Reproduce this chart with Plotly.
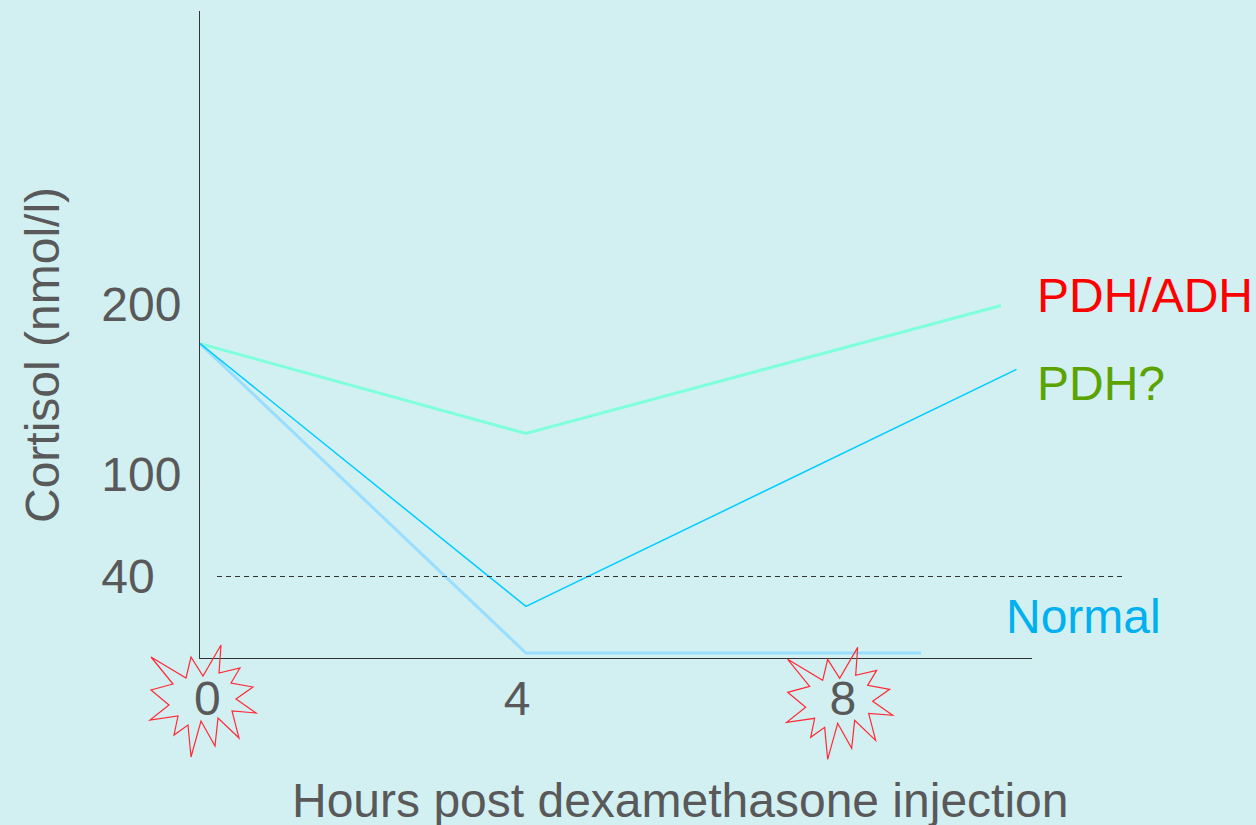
import plotly.graph_objects as go

pdh_adh_hours = [0, 4, 9.83]
pdh_adh = [177, 124.1, 199.4]
pdh_q_hours = [0, 4, 10.02]
pdh_q = [177, 22.4, 161.8]
normal_hours = [0, 4, 8.85]
normal = [177, -5, -5]
cutoff_value = 40

x_tick_pos = [0.09, 3.89, 7.89]
x_tick_text = ["0", "4", "8"]
y_ticks = [40, 100, 200]
y_tick_text = ["40\u00a0\u00a0", "100", "200"]

# burst outline, pixel offsets from its centre (x right, y up)
burst_x = [-52, -17, -12, 0, 18, 16, 37, 28, 50, 33, 53, 29, 36, 15, 12, -2, -12, -15, -29, -25, -53, -34, -52, -30, -52]
burst_y = [43, 22, 43, 24, 55, 27, 32, 17, 13, 1, -13, -11, -38, -18, -46, -21, -57, -25, -35, -16, -20, -5, 10, 16, 43]
burst_px = [(203, 700), (839.67, 702.33)]

BG = "#D2F0F2"
GREY = "#595959"
FONT = "Liberation Sans"
SIZE = 48
L, R, T, B = 200, 1032, 11, 658


def px(x):
    return (x - L) / (R - L)


def py(y):
    return (B - y) / (B - T)


fig = go.Figure()
fig.add_trace(go.Scatter(x=pdh_adh_hours, y=pdh_adh, mode="lines", line=dict(color="#80FFDD", width=3)))
fig.add_trace(go.Scatter(x=normal_hours, y=normal, mode="lines", line=dict(color="#99DDFF", width=3)))
fig.add_trace(go.Scatter(x=pdh_q_hours, y=pdh_q, mode="lines", line=dict(color="#00CCFF", width=1.5)))

path = "M " + " L ".join(f"{a} {b}" for a, b in zip(burst_x, burst_y)) + " Z"
shapes = [dict(type="path", path=path, xref="paper", yref="paper", xsizemode="pixel", ysizemode="pixel",
               xanchor=px(a), yanchor=py(b), line=dict(color="#FF2A35", width=1.2), layer="above")
          for a, b in burst_px]
shapes.append(dict(type="line", xref="paper", yref="y", x0=px(217), x1=px(1124),
                   y0=cutoff_value, y1=cutoff_value,
                   line=dict(color="#333333", width=1, dash="5px,4px"), layer="above"))

annots = [
    dict(text="PDH/ADH", x=px(1035), y=py(295), xanchor="left", font=dict(color="#FF0000")),
    dict(text="PDH?", x=px(1035), y=py(383), xanchor="left", font=dict(color="#5BA300")),
    dict(text="Normal", x=px(1004), y=py(616), xanchor="left", font=dict(color="#00B0F0")),
    dict(text="Hours post dexamethasone injection", x=px(680), y=py(800), xanchor="center",
         font=dict(color=GREY)),
    dict(text="Cortisol (nmol/l)", textangle=-90, x=px(42), y=py(355), xanchor="center",
         font=dict(color=GREY)),
]
for a in annots:
    a.update(xref="paper", yref="paper", yanchor="middle", showarrow=False)
    a["font"].update(family=FONT, size=SIZE)

fig.update_layout(
    width=1256, height=825, autosize=False,
    margin=dict(l=L, r=1256 - R, t=T, b=825 - B, pad=0),
    paper_bgcolor=BG, plot_bgcolor=BG, showlegend=False,
    shapes=shapes, annotations=annots,
    xaxis=dict(range=[0, 10.21], tickvals=x_tick_pos, ticktext=x_tick_text, showgrid=False, zeroline=False,
               showline=True, linecolor="#333333", linewidth=1, ticks="", ticklabelstandoff=-2,
               tickfont=dict(family=FONT, size=SIZE, color=GREY)),
    yaxis=dict(range=[-7.94, 372.65], tickvals=y_ticks, ticktext=y_tick_text, showgrid=False, zeroline=False,
               showline=True, linecolor="#333333", linewidth=1, ticks="outside", ticklen=8,
               tickcolor="rgba(0,0,0,0)", tickfont=dict(family=FONT, size=SIZE, color=GREY)),
)
fig.write_html("out.html", config={"displayModeBar": False},
               post_script="document.body.style.margin='0';document.body.style.background='#D2F0F2';")
